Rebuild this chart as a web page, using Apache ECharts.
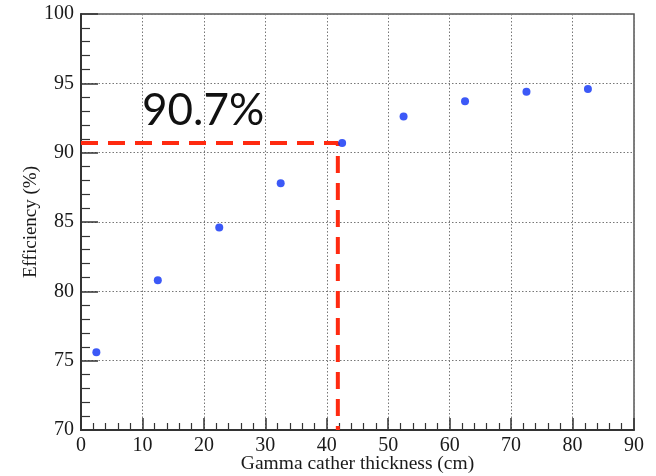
<!DOCTYPE html>
<html>
<head>
<meta charset="utf-8">
<script src="https://cdn.jsdelivr.net/npm/echarts@6/dist/echarts.min.js"></script>
<style>
  html, body { margin: 0; padding: 0; background: #fff; }
  #chart { width: 656px; height: 476px; }
</style>
</head>
<body>
<div id="chart"></div>
<script>
// Gamma catcher thickness (cm) and detection efficiency (%)
const thickness = [2.5, 12.5, 22.5, 32.5, 42.5, 52.5, 62.5, 72.5, 82.5];
const efficiency = [75.6, 80.8, 84.6, 87.8, 90.7, 92.6, 93.7, 94.4, 94.6];

// Chosen working point, marked with a dashed guide
const cutoffThickness = 41.8;
const cutoffEfficiency = 90.7;

const xTicks = [0, 10, 20, 30, 40, 50, 60, 70, 80, 90];
const yTicks = [70, 75, 80, 85, 90, 95, 100];

const chart = echarts.init(document.getElementById('chart'), null, { renderer: 'canvas' });

const serif = 'Liberation Serif';
const gridLine = { show: true, lineStyle: { color: '#777', type: [1.5, 2], width: 1 } };

chart.setOption({
  backgroundColor: '#fff',
  animation: false,
  grid: {
    left: 81, right: 22, top: 14, bottom: 46,
    outerBoundsMode: 'none', containLabel: false,
    show: true, borderColor: '#555', borderWidth: 1.5, backgroundColor: 'transparent'
  },
  xAxis: {
    type: 'value',
    min: xTicks[0], max: xTicks[xTicks.length - 1], interval: 10,
    name: 'Gamma cather thickness (cm)',
    nameLocation: 'middle', nameGap: 24, nameMoveOverlap: false,
    nameTextStyle: { fontFamily: serif, fontSize: 19.5, color: '#1a1a1a' },
    axisLine: { show: true, lineStyle: { color: '#333', width: 2 } },
    axisTick: { show: true, inside: true, length: 12, lineStyle: { color: '#333', width: 1.5 } },
    minorTick: { show: true, splitNumber: 5, length: 7, lineStyle: { color: '#333', width: 1.2 } },
    axisLabel: { fontFamily: serif, fontSize: 20, color: '#1a1a1a', margin: 6 },
    splitLine: gridLine
  },
  yAxis: {
    type: 'value',
    min: yTicks[0], max: yTicks[yTicks.length - 1], interval: 5,
    name: 'Efficiency (%)',
    nameLocation: 'middle', nameGap: 40, nameMoveOverlap: false,
    nameTextStyle: { fontFamily: serif, fontSize: 19, color: '#1a1a1a' },
    axisLine: { show: true, lineStyle: { color: '#333', width: 2 } },
    axisTick: { show: true, inside: true, length: 17, lineStyle: { color: '#333', width: 1.5 } },
    minorTick: { show: true, splitNumber: 5, length: 9, lineStyle: { color: '#333', width: 1.2 } },
    axisLabel: { fontFamily: serif, fontSize: 20, color: '#1a1a1a', margin: 7 },
    splitLine: gridLine
  },
  series: [
    {
      type: 'line',
      data: [[xTicks[0], cutoffEfficiency], [cutoffThickness, cutoffEfficiency], [cutoffThickness, yTicks[0]]],
      showSymbol: false,
      lineStyle: { color: '#ff2a10', width: 4, type: [17, 10] },
      z: 3
    },
    {
      type: 'scatter',
      data: thickness.map((t, i) => [t, efficiency[i]]),
      symbol: 'circle', symbolSize: 8,
      itemStyle: { color: '#0b2ff5' },
      z: 4
    }
  ],
  graphic: [
    {
      type: 'text',
      left: 142, top: 89,
      style: {
        text: cutoffEfficiency.toFixed(1) + '%',
        font: '44px Lato',
        fill: '#111'
      },
      z: 10
    }
  ]
});
</script>
</body>
</html>
